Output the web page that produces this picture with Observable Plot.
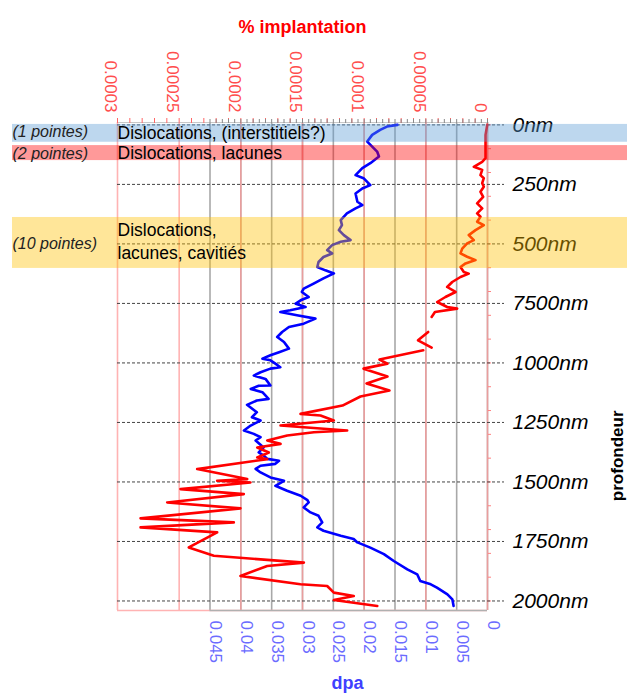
<!DOCTYPE html>
<html><head><meta charset="utf-8">
<script src="https://cdn.jsdelivr.net/npm/d3@7"></script>
<script src="https://cdn.jsdelivr.net/npm/@observablehq/plot@0.6"></script>
<style>body{margin:0;background:#fff}#chart{width:627px;height:699px}</style>
</head><body><div id="chart"></div>
<script>
// depth (nm) and dpa of the blue curve
const dpaDepth = [0,7,21,42,70,91,112,133,161,182,211,224,253,267,288,323,337,351,372,400,421,442,463,484,491,505,526,540,555,576,597,611,624,645,667,688,702,723,737,751,765,779,786,800,814,835,849,870,891,912,940,955,968,982,989,1003,1018,1024,1039,1053,1067,1095,1096,1109,1123,1151,1158,1176,1207,1228,1242,1263,1284,1298,1312,1326,1355,1376,1389,1403,1411,1424,1432,1445,1460,1481,1495,1516,1537,1558,1576,1586,1607,1628,1642,1670,1691,1705,1726,1740,1754,1776,1803,1832,1867,1888,1916,1930,1944,1972,1993,2021];
const dpaValue = [0.0146,0.0163,0.0174,0.0187,0.0195,0.0187,0.0179,0.0176,0.0190,0.0203,0.0214,0.0201,0.0190,0.0203,0.0214,0.0211,0.0203,0.0214,0.0228,0.0238,0.0236,0.0241,0.0233,0.0222,0.0238,0.0252,0.0260,0.0252,0.0266,0.0274,0.0276,0.0263,0.0249,0.0266,0.0282,0.0298,0.0301,0.0290,0.0303,0.0311,0.0295,0.0320,0.0336,0.0309,0.0279,0.0298,0.0322,0.0333,0.0341,0.0330,0.0322,0.0338,0.0352,0.0365,0.0352,0.0344,0.0336,0.0352,0.0368,0.0379,0.0360,0.0352,0.0371,0.0384,0.0365,0.0355,0.0374,0.0390,0.0374,0.0382,0.0368,0.0384,0.0395,0.0379,0.0368,0.0376,0.0363,0.0371,0.0363,0.0357,0.0338,0.0344,0.0368,0.0376,0.0368,0.0352,0.0330,0.0344,0.0325,0.0303,0.0292,0.0290,0.0298,0.0287,0.0274,0.0268,0.0276,0.0266,0.0238,0.0217,0.0211,0.0190,0.0168,0.0152,0.0130,0.0114,0.0109,0.0092,0.0082,0.0065,0.0057,0.0055];
// depth (nm) and implantation of the red curve (null = gap)
const implDepth = [0,42,84,140,155,176,189,211,224,245,260,281,302,330,351,372,386,407,421,442,463,484,498,520,540,554,568,582,597,618,625,639,660,681,702,723,744,765,772,786,807,820,870,905,936,940,947,986,1003,1024,1057,1086,1116,1141,1179,1214,1221,1242,1263,1284,1291,1305,1326,1340,1355,1376,1397,1404,1446,1488,1495,1502,1530,1551,1586,1611,1653,1670,1691,1712,1775,1810,1839,1853,1895,1930,1937,1965,1979,1996,2021];
const implValue = [0.2e-6,1.6e-6,1.6e-6,1.6e-6,4.3e-6,11.1e-6,4.3e-6,5.7e-6,3.0e-6,4.3e-6,3.0e-6,5.7e-6,3.5e-6,8.4e-6,4.3e-6,8.4e-6,5.7e-6,8.4e-6,3.0e-6,9.7e-6,15.2e-6,11.1e-6,16.5e-6,20.5e-6,21.9e-6,16.5e-6,9.7e-6,17.8e-6,21.9e-6,19.2e-6,15.2e-6,21.9e-6,28.6e-6,32.7e-6,25.9e-6,34.1e-6,40.8e-6,32.7e-6,24.6e-6,42.6e-6,45.3e-6,null,48.1e-6,56.3e-6,45.3e-6,null,52.1e-6,87.6e-6,81.1e-6,100.5e-6,81.1e-6,98.1e-6,79.5e-6,103e-6,117.6e-6,151.6e-6,135.4e-6,124.6e-6,167.8e-6,113.8e-6,140.8e-6,162.4e-6,178.6e-6,167.8e-6,186.7e-6,177.3e-6,186.7e-6,178.6e-6,235.4e-6,194.8e-6,219.2e-6,192.2e-6,248.9e-6,197.6e-6,259.7e-6,200.3e-6,281.3e-6,205.7e-6,281.3e-6,219.2e-6,242.2e-6,221.9e-6,148.9e-6,178.6e-6,200.3e-6,151.6e-6,130e-6,124.6e-6,108.4e-6,124.6e-6,89.4e-6];

const implTicks = [0.0003,0.00025,0.0002,0.00015,0.0001,0.00005,0];
const implTickLabels = ["0.0003","0.00025","0.0002","0.00015","0.0001","0.00005","0"];
const dpaTicks = [0.045,0.04,0.035,0.03,0.025,0.02,0.015,0.01,0.005,0];
const dpaTickLabels = ["0.045","0.04","0.035","0.03","0.025","0.02","0.015","0.01","0.005","0"];
const depthTicks = [0,250,500,750,1000,1250,1500,1750,2000];
const depthLabels = ["0nm","250nm","500nm","7500nm","1000nm","1250nm","1500nm","1750nm","2000nm"];
const bandTop = [-2,87,389];
const bandBottom = [73,150,603];
const bandColor = ["#5b9bd5","#ff0000","#ffc000"];
const bandOpacity = [0.4,0.4,0.4];
const bandNotes = ["(1 pointes)","(2 pointes)","(10 pointes)"];
const bandNoteDepth = [28,120,498];
const bandTexts = ["Dislocations, (interstitiels?)","Dislocations, lacunes","Dislocations,","lacunes, cavitiés"];
const bandTextDepth = [36,120,444,540];

const DPA_TO_IMPL = 0.0003 / 0.06; // dpa axis spans 0..0.06 over the same width
const implData = implDepth.map((d,i)=>({depth:d, v:implValue[i]}));
const dpaData = dpaDepth.map((d,i)=>({depth:d, v:dpaValue[i]}));
const implMinor = d3.range(0, 30.5, 1).map(k=>k*1e-5);
const dpaMinor = d3.range(0, 45.5, 1).map(k=>k*0.001*DPA_TO_IMPL);
const depthMinor = d3.range(0, 2001, 100);
const bands = bandTop.map((t,i)=>({t, b:bandBottom[i], c:bandColor[i], o:bandOpacity[i]}));
const font = "Liberation Sans, Arial, sans-serif";

const chart = Plot.plot({
  width: 627, height: 699,
  marginTop: 122, marginBottom: 89, marginLeft: 117, marginRight: 140,
  style: {fontFamily: font, background: "#fff"},
  x: {domain: [0.0003, 0], axis: null, label: null},
  y: {domain: [-10, 2040], reverse: true, axis: null, label: null},
  marks: [
    // dpa (gray) grid
    Plot.ruleX(dpaTicks, {x: d=>d*DPA_TO_IMPL, stroke: "#a8a8a8", strokeWidth: 1.6}),
    // implantation (red) grid
    Plot.ruleX(implTicks, {x: d=>d, stroke: "#ff9a9a", strokeOpacity: 0.75, strokeWidth: 1.6}),
    Plot.ruleY([-10], {stroke: "#c8c8c8", strokeWidth: 1.2}),
    Plot.ruleY([2040], {stroke: "#ffb3b3", strokeWidth: 1.6}),
    Plot.ruleY([2040], {x1: 0.045*DPA_TO_IMPL, x2: 0, stroke: "#b0b0b0", strokeWidth: 1.6}),
    // top minor ticks
    Plot.axisX({anchor: "top", label: null, ticks: implMinor, tickSize: 5, tickFormat: () => "", stroke: "#ff6666", strokeWidth: 1, tickPadding: 0}),
    Plot.axisX({anchor: "top", label: null, ticks: dpaMinor, tickSize: 4, tickFormat: () => "", stroke: "#888", strokeWidth: 1, tickPadding: 0}),
    // right minor ticks
    Plot.axisY({anchor: "right", label: null, ticks: depthMinor, tickSize: 3, tickFormat: () => "", stroke: "#ff8080", strokeWidth: 1, tickPadding: 0}),
    // dotted depth lines
    Plot.ruleY(depthTicks, {y: d=>d, stroke: "#444", strokeDasharray: "3,2", strokeWidth: 1, insetRight: -17}),
    // depth labels
    Plot.text(depthTicks, {y: d=>d, text: (d,i)=>depthLabels[i], frameAnchor: "right", textAnchor: "start", dx: 25, fontSize: 21, fontStyle: "italic", fill: "#000"}),
    // data
    Plot.line(dpaData, {x: d=>d.v*DPA_TO_IMPL, y: "depth", stroke: "#0000ff", strokeWidth: 2.6, curve: "linear"}),
    Plot.line(implData, {x: "v", y: "depth", stroke: "#ff0000", strokeWidth: 2.6, curve: "linear"}),
    // translucent bands laid over the chart
    Plot.rect(bands, {y1: "t", y2: "b", fill: "c", fillOpacity: "o", insetLeft: -105, insetRight: -140}),
    Plot.text(bandNotes, {y: (d,i)=>bandNoteDepth[i], text: d=>d, frameAnchor: "left", textAnchor: "start", dx: -105, fontSize: 16, fontStyle: "italic", fill: "#222"}),
    Plot.text(bandTexts, {y: (d,i)=>bandTextDepth[i], text: d=>d, frameAnchor: "left", textAnchor: "start", dx: 0, fontSize: 17.5, fill: "#000"}),
    // implantation tick labels (top)
    Plot.text(implTicks, {x: d=>d, text: (d,i)=>implTickLabels[i], frameAnchor: "top", rotate: 90, textAnchor: "end", dy: -10, fontSize: 17, fill: "#ff4d4d"}),
    // dpa tick labels (bottom)
    Plot.text(dpaTicks, {x: d=>d*DPA_TO_IMPL, text: (d,i)=>dpaTickLabels[i], frameAnchor: "bottom", rotate: 90, textAnchor: "start", dy: 10, fontSize: 17, fill: "#6b6bff"}),
    // titles
    Plot.text(["% implantation"], {frameAnchor: "top", dy: -102, fontSize: 18, fontWeight: "bold", fill: "#ff0000"}),
    Plot.text(["dpa"], {frameAnchor: "bottom", dx: 45, dy: 78, fontSize: 18, fontWeight: "bold", fill: "#4040ff"}),
    Plot.text(["profondeur"], {frameAnchor: "right", dx: 130, dy: 44, rotate: -90, fontSize: 17, fontWeight: "bold", fill: "#000"})
  ]
});
document.getElementById("chart").append(chart);
</script></body></html>
